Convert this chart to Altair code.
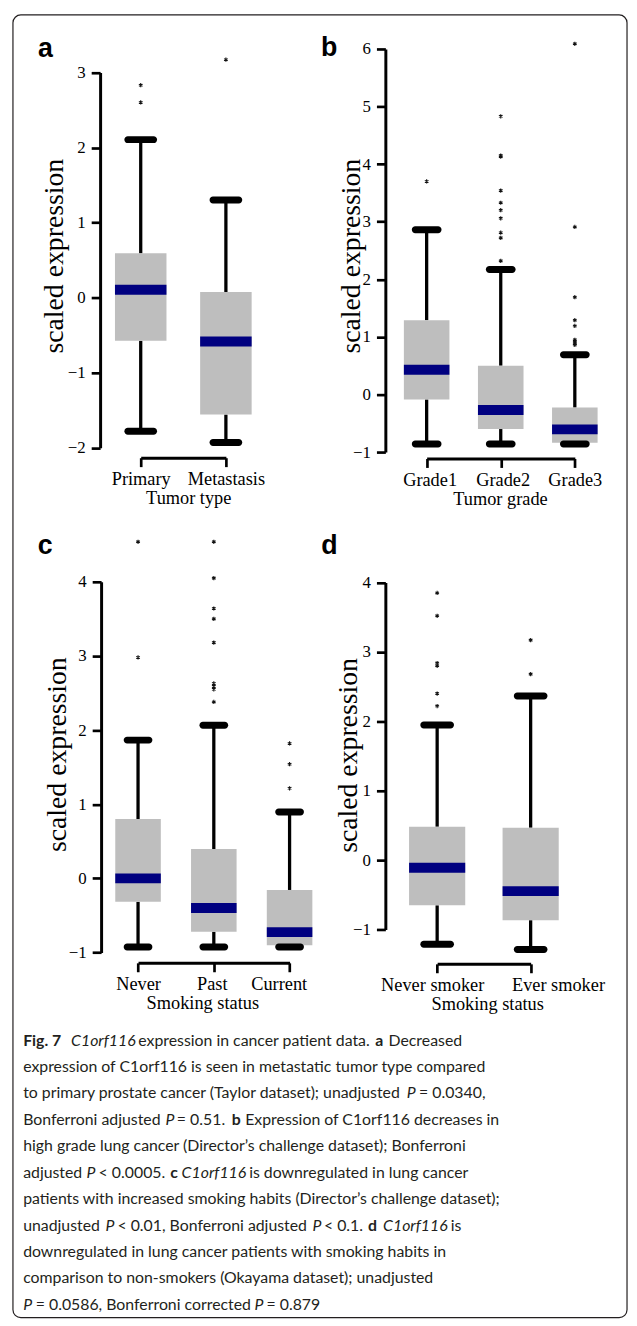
import altair as alt
import pandas as pd

# ---------------- data ----------------
# a: Taylor dataset, tumor type
a_categories = ["Primary", "Metastasis"]
a_whisker_low = [-1.78, -1.93]
a_q1 = [-0.575, -1.557]
a_median = [0.105, -0.583]
a_q3 = [0.59, 0.075]
a_whisker_high = [2.105, 1.30]
a_outlier_group = ["Primary", "Primary", "Metastasis"]
a_outlier_value = [2.83, 2.60, 3.17]
a_ticks = [-2, -1, 0, 1, 2, 3]

# b: Director's challenge, tumor grade
b_categories = ["Grade1", "Grade2", "Grade3"]
b_whisker_low = [-0.86, -0.86, -0.86]
b_q1 = [-0.086, -0.60, -0.84]
b_median = [0.43, -0.27, -0.605]
b_q3 = [1.29, 0.50, -0.227]
b_whisker_high = [2.86, 2.17, 0.69]
b_outlier_group = (["Grade1"]
                   + ["Grade2"] * 10
                   + ["Grade3"] * 9)
b_outlier_value = ([3.70]
                   + [4.83, 4.15, 4.13, 3.54, 3.33, 3.20, 3.06, 2.81, 2.72, 2.32]
                   + [6.09, 2.91, 1.69, 1.29, 1.19, 0.95, 0.91, 0.88, 0.86])
b_ticks = [-1, 0, 1, 2, 3, 4, 5, 6]

# c: Director's challenge, smoking status
c_categories = ["Never", "Past", "Current"]
c_whisker_low = [-0.926, -0.926, -0.926]
c_q1 = [-0.316, -0.72, -0.90]
c_median = [0.0, -0.40, -0.725]
c_q3 = [0.80, 0.396, -0.156]
c_whisker_high = [1.865, 2.065, 0.895]
c_outlier_group = (["Never"] * 2 + ["Past"] * 9 + ["Current"] * 3)
c_outlier_value = ([4.54, 2.98]
                   + [4.54, 4.05, 3.64, 3.50, 3.18, 2.63, 2.59, 2.55, 2.38]
                   + [1.82, 1.54, 1.215])
c_ticks = [-1, 0, 1, 2, 3, 4]

# d: Okayama dataset, smoking status
d_categories = ["Never smoker", "Ever smoker"]
d_whisker_low = [-1.213, -1.29]
d_q1 = [-0.652, -0.866]
d_median = [-0.11, -0.447]
d_q3 = [0.48, 0.466]
d_whisker_high = [1.946, 2.364]
d_outlier_group = ["Never smoker"] * 6 + ["Ever smoker"] * 2
d_outlier_value = [3.85, 3.52, 2.84, 2.80, 2.40, 2.22, 3.17, 2.68]
d_ticks = [-1, 0, 1, 2, 3, 4]

caption_lines = [
    "Fig. 7 C1orf116 expression in cancer patient data. a Decreased",
    "expression of C1orf116 is seen in metastatic tumor type compared",
    "to primary prostate cancer (Taylor dataset); unadjusted P = 0.0340,",
    "Bonferroni adjusted P = 0.51. b Expression of C1orf116 decreases in",
    "high grade lung cancer (Director\u2019s challenge dataset); Bonferroni",
    "adjusted P < 0.0005. c C1orf116 is downregulated in lung cancer",
    "patients with increased smoking habits (Director\u2019s challenge dataset);",
    "unadjusted P < 0.01, Bonferroni adjusted P < 0.1. d C1orf116 is",
    "downregulated in lung cancer patients with smoking habits in",
    "comparison to non-smokers (Okayama dataset); unadjusted",
    "P = 0.0586, Bonferroni corrected P = 0.879",
]

# ---------------- layout (pixels) ----------------
W, H = 627, 1318
LAYOUT = {
    "a": dict(xr=[134, 220], yr=[437.7, 58.7], yaxis_x=93, bracket_y=447.7,
              ytitle=(-46, 243.7), xtitle_x=182, box=52, cap=33,
              letter=(30.3, 43), label_dx={}),
    "b": dict(xr=[422.7, 572.3], yr=[442, 35], yaxis_x=381, bracket_y=448.5,
              ytitle=(-34.3, 243.7), xtitle_x=496.7, box=46, cap=30,
              letter=(316, 42.5), label_dx={"Grade1": 3, "Grade2": 2}),
    "c": dict(xr=[131.3, 284.3], yr=[947.3, 573], yaxis_x=94, bracket_y=957.7,
              ytitle=(-43.7, 747), xtitle_x=196.2, box=46, cap=29,
              letter=(30, 545.3), label_dx={"Past": -2, "Current": -11}),
    "d": dict(xr=[433.3, 527.7], yr=[924, 573.7], yaxis_x=381, bracket_y=958.7,
              ytitle=(-36.8, 747.8), xtitle_x=483.8, box=56.7, cap=34,
              letter=(316.3, 545.3), label_dx={"Never smoker": -5, "Ever smoker": 27.6}),
}

# caption runs with bold / italic styling: line -> [(x, style, text), ...]
CAPTION_X0 = 15.3
CAPTION_FONT_SIZE = 16.0
CAPTION_RUNS = {
    0: [(15.3, "bold", "Fig. 7"), (63.7, "italic", "C1orf116"),
        (131.5, "normal", "expression in cancer patient data."), (370.8, "bold", "a"),
        (384.2, "normal", "Decreased")],
    2: [(15.3, "normal", "to primary prostate cancer (Taylor dataset); unadjusted"),
        (402.5, "italic", "P"), (415, "normal", "= 0.0340,")],
    3: [(15.3, "normal", "Bonferroni adjusted"), (159, "italic", "P"),
        (170.5, "normal", "= 0.51."), (226, "bold", "b"),
        (239.5, "normal", "Expression of C1orf116 decreases in")],
    5: [(15.3, "normal", "adjusted"), (79.3, "italic", "P"), (91.5, "normal", "< 0.0005."),
        (163.7, "bold", "c"), (175.3, "italic", "C1orf116"),
        (243.5, "normal", "is downregulated in lung cancer")],
    7: [(15.3, "normal", "unadjusted"), (98.5, "italic", "P"),
        (110.5, "normal", "< 0.01, Bonferroni adjusted"), (307.5, "italic", "P"),
        (319, "normal", "< 0.1."), (363.5, "bold", "d"), (378.7, "italic", "C1orf116"),
        (447, "normal", "is")],
    10: [(15.3, "italic", "P"), (28, "normal", "= 0.0586, Bonferroni corrected"),
         (249, "italic", "P"), (261, "normal", "= 0.879")],
}

ASTERISK = "M0,-1L0,1M-0.87,-0.5L0.87,0.5M-0.87,0.5L0.87,-0.5"


def make_panel(letter, cats, lo, q1, med, q3, hi, og, ov, ticks, xtitle):
    L = LAYOUT[letter]
    summary = pd.DataFrame({"cat": cats, "lo": lo, "q1": q1, "med": med, "q3": q3, "hi": hi})
    outl = pd.DataFrame({"cat": og, "val": ov})
    conds = [{"test": f"datum.value === '{k}'", "value": v} for k, v in L["label_dx"].items()]
    label_offset = {"condition": conds, "value": 0} if conds else 0
    xaxis = alt.Axis(orient="bottom", offset=L["bracket_y"] - H, title=xtitle,
                     titleX=L["xtitle_x"], titleY=46.5, labelOffset=label_offset)
    yaxis = alt.Axis(orient="left", offset=-L["yaxis_x"], values=ticks,
                     title="scaled expression", titleX=L["ytitle"][0],
                     titleY=L["ytitle"][1], format="d")
    xs = alt.Scale(type="point", domain=cats, range=L["xr"], padding=0)
    ys = alt.Scale(domain=[ticks[0], ticks[-1]], range=L["yr"], nice=False, zero=False)
    X = alt.X("cat:N", scale=xs, axis=xaxis)

    def Y(f):
        return alt.Y(f"{f}:Q", scale=ys, axis=yaxis)

    base = alt.Chart(summary)
    whisk_hi = base.mark_rule(color="black", strokeWidth=3.3).encode(x=X, y=Y("q3"), y2="hi")
    whisk_lo = base.mark_rule(color="black", strokeWidth=3.3).encode(x=X, y=Y("lo"), y2="q1")
    box = base.mark_bar(size=L["box"], color="#BEBEBE").encode(x=X, y=Y("q1"), y2="q3")
    median = base.mark_tick(size=L["box"], thickness=10, color="#000080", opacity=1).encode(x=X, y=Y("med"))
    cap_hi = base.mark_tick(size=L["cap"], thickness=7, cornerRadius=3.5, color="black", opacity=1).encode(x=X, y=Y("hi"))
    cap_lo = base.mark_tick(size=L["cap"], thickness=7, cornerRadius=3.5, color="black", opacity=1).encode(x=X, y=Y("lo"))
    pts = alt.Chart(outl).mark_point(shape=ASTERISK, size=18, filled=False, strokeWidth=1.1,
                                     color="#111111", opacity=1).encode(x=X, y=Y("val"))
    lab = alt.Chart(pd.DataFrame({"t": [letter]})).mark_text(
        font="Liberation Sans", fontWeight="bold", fontSize=27, align="left",
        baseline="alphabetic", color="black").encode(
        x=alt.value(L["letter"][0]), y=alt.value(L["letter"][1]), text="t:N")
    return alt.layer(whisk_hi, whisk_lo, box, median, cap_hi, cap_lo, pts, lab)


pa = make_panel("a", a_categories, a_whisker_low, a_q1, a_median, a_q3, a_whisker_high,
                a_outlier_group, a_outlier_value, a_ticks, "Tumor type")
pb = make_panel("b", b_categories, b_whisker_low, b_q1, b_median, b_q3, b_whisker_high,
                b_outlier_group, b_outlier_value, b_ticks, "Tumor grade")
pc = make_panel("c", c_categories, c_whisker_low, c_q1, c_median, c_q3, c_whisker_high,
                c_outlier_group, c_outlier_value, c_ticks, "Smoking status")
pd_ = make_panel("d", d_categories, d_whisker_low, d_q1, d_median, d_q3, d_whisker_high,
                 d_outlier_group, d_outlier_value, d_ticks, "Smoking status")

# caption: split each line into styled runs
rows = []
for i, line in enumerate(caption_lines):
    for x, style, text in CAPTION_RUNS.get(i, [(CAPTION_X0, "normal", line)]):
        rows.append({"line_no": i, "px": x, "style": style, "text": text})
runs = pd.DataFrame(rows)
cap_y = alt.Y("line_no:Q", scale=alt.Scale(domain=[0, 10], range=[1041.3, 1308]), axis=None)
cap_x = alt.X("px:Q", scale=None, axis=None)
STYLE = {"normal": dict(fontWeight="normal", fontStyle="normal"),
         "bold": dict(fontWeight="bold", fontStyle="normal"),
         "italic": dict(fontWeight="normal", fontStyle="italic")}
cap_layers = []
for style, props in STYLE.items():
    cap_layers.append(
        alt.Chart(runs[runs["style"] == style]).mark_text(
            align="left", baseline="alphabetic", font="Lato", fontSize=CAPTION_FONT_SIZE,
            color="#231f20", **props).encode(x=cap_x, y=cap_y, text="text:N"))
caption = alt.layer(*cap_layers)

frame = alt.Chart(pd.DataFrame({"k": [0]})).mark_rect(
    fill="white", fillOpacity=0, stroke="#231f20", strokeWidth=1.2, cornerRadius=8).encode(
    x=alt.value(5), x2=alt.value(625), y=alt.value(0.6), y2=alt.value(1316))

chart = alt.layer(pa, pb, pc, pd_, caption, frame).resolve_scale(
    x="independent", y="independent").properties(
    width=W, height=H, autosize=alt.AutoSizeParams(type="none"), padding=0)

chart = (chart.configure_view(strokeWidth=0)
         .configure_axis(domainColor="black", domainWidth=3, tickColor="black", tickWidth=2.7,
                         tickSize=9, labelFont="Liberation Serif", labelColor="black",
                         titleFont="Liberation Serif", titleColor="black",
                         titleFontWeight="normal", grid=False, labelOverlap=False)
         .configure_axisX(labelFontSize=18.5, labelBaseline="alphabetic", labelPadding=18,
                          titleFontSize=18.5, titleBaseline="alphabetic", titleAlign="center",
                          labelAngle=0)
         .configure_axisY(labelFontSize=17, labelPadding=6, titleFontSize=28, titleAngle=270,
                          titleBaseline="middle", titleAlign="center"))

chart.save("out.html", embed_options={"renderer": "svg", "actions": False})
